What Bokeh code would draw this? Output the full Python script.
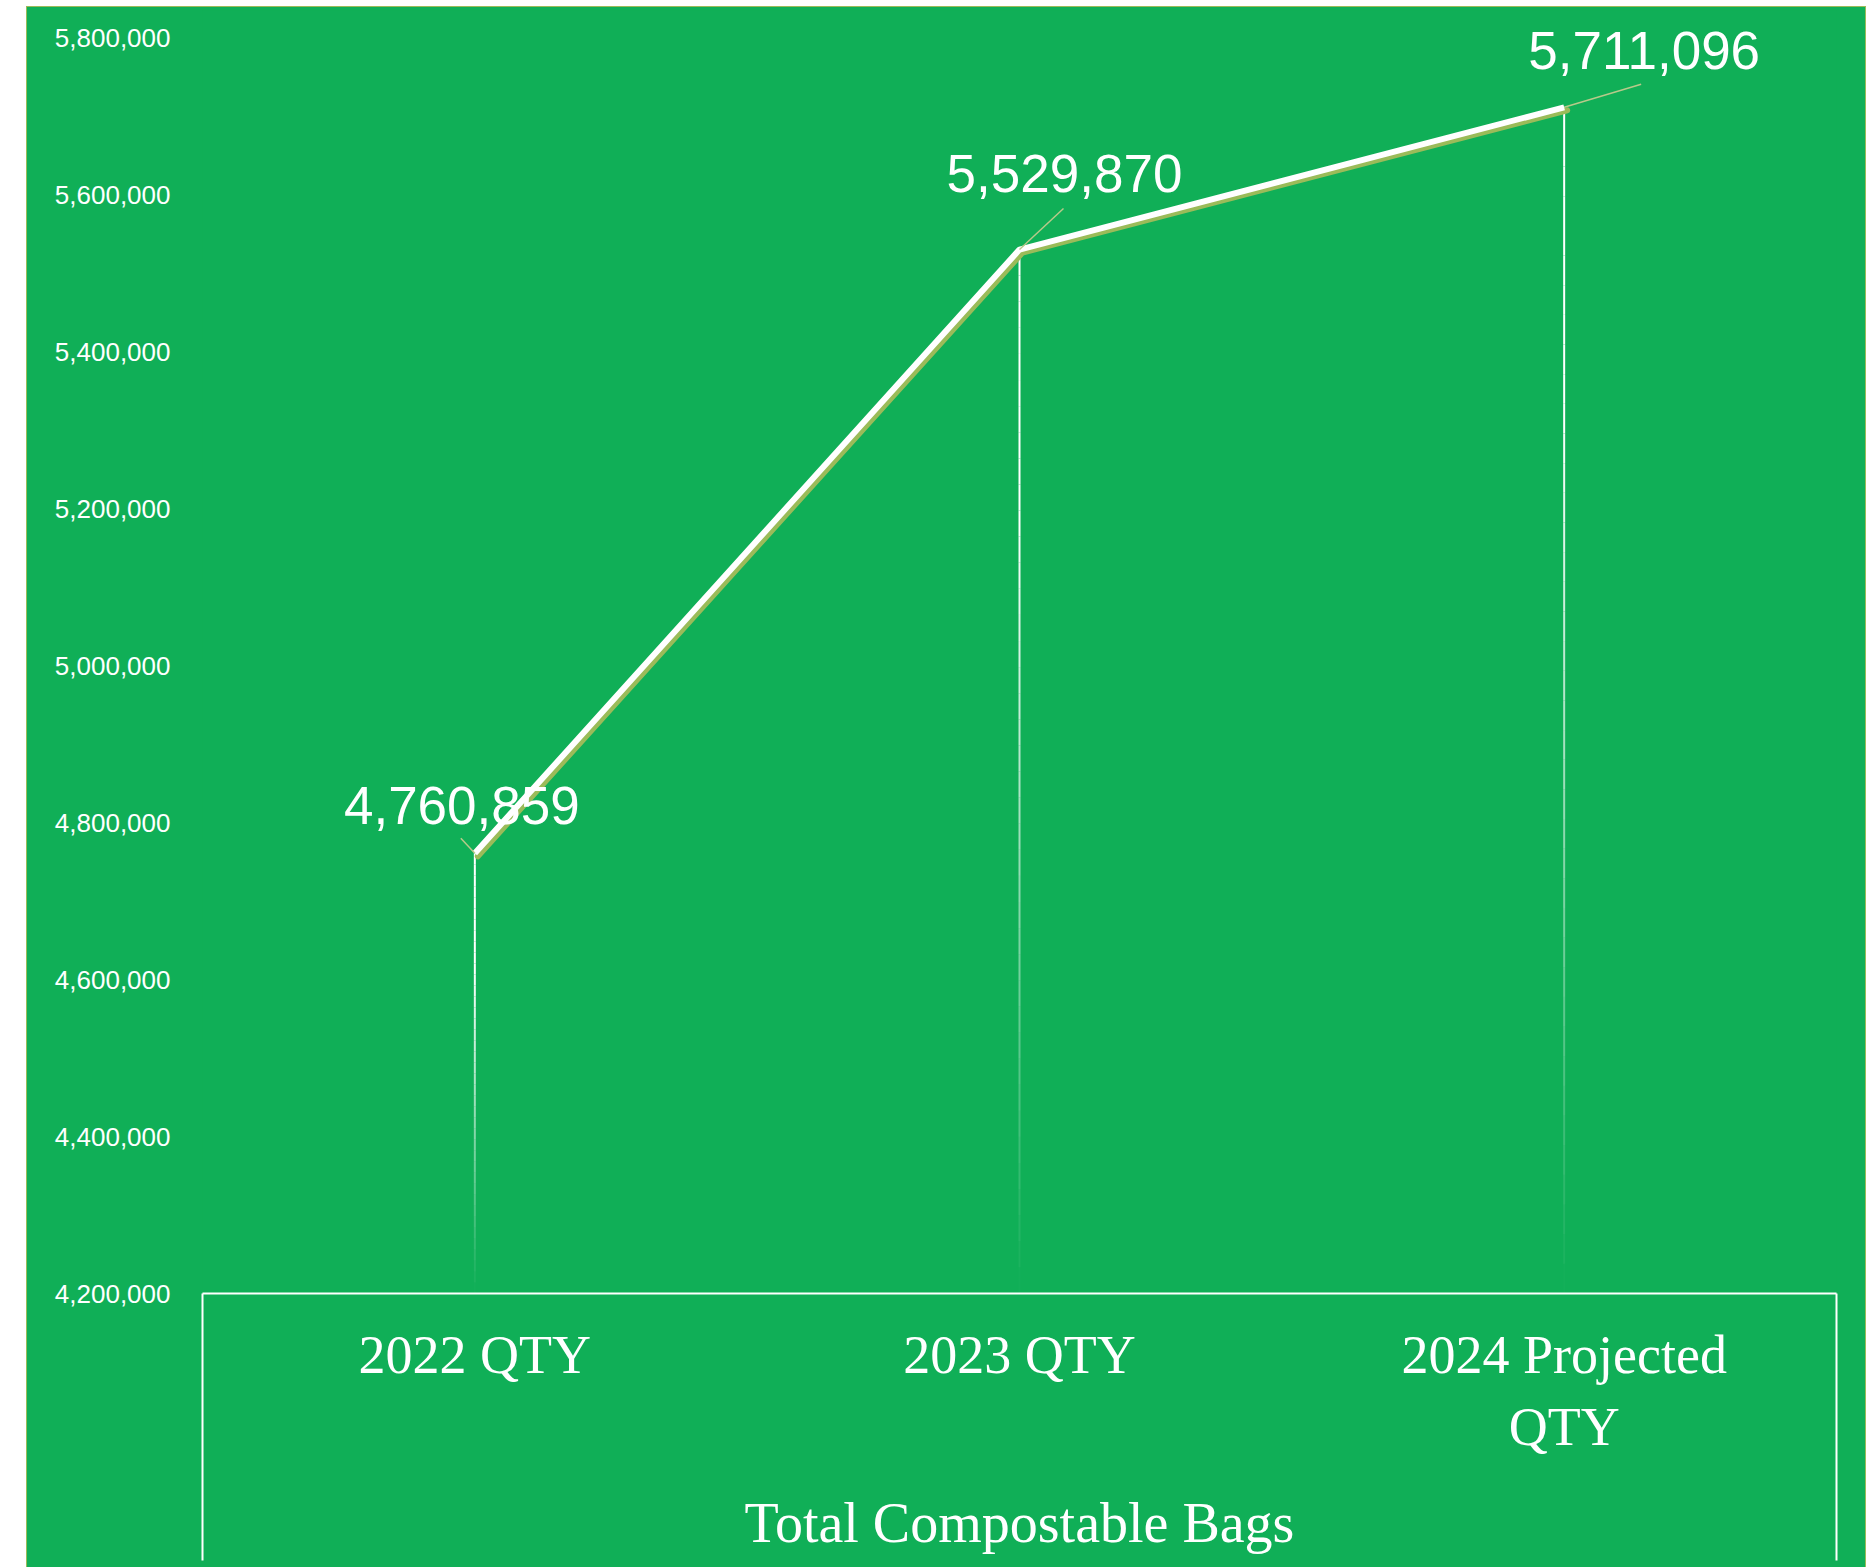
import textwrap
from bokeh.plotting import figure
from bokeh.models import (ColumnDataSource, Range1d, LinearAxis, LabelSet,
                          FixedTicker, NumeralTickFormatter)
from bokeh.embed import file_html
from bokeh.resources import INLINE
from bokeh.core.properties import value

# ---------------- data ----------------
categories = ["2022 QTY", "2023 QTY", "2024 Projected QTY"]
quantities = [4760859, 5529870, 5711096]
group_label = "Total Compostable Bags"
y_ticks = [4200000, 4400000, 4600000, 4800000, 5000000,
           5200000, 5400000, 5600000, 5800000]

# ---------------- style / layout ----------------
GREEN = "#10AF57"
OLIVE = "#9BBB59"
W, H = 1840, 1561
ML, MR, MB = 175, 31, 275
AXIS_TOP = 30                   # px from figure top to the 5,800,000 tick
HEADROOM = 27                   # extra frame above the top tick, so labels are not clipped
MT = AXIS_TOP - HEADROOM
frame_w = W - ML - MR
y_min, y_max = y_ticks[0], y_ticks[-1]
val_per_px = (y_max - y_min) / (H - AXIS_TOP - MB)
n = len(categories)
px_per_cat = frame_w / n
TICK = 267                      # length of the category box sides (px)

label_offsets = [(-13, 48), (45, 76), (80, 57)]        # px, text centre from point (up = +)
leader_ends = [(-14, -15), (44, -41), (77, -23)]       # px, from point (down = +)
shadow_shift = (3, 3)                                  # px

# category centres on a linear scale (one unit per category)
xc = [i + 0.5 for i in range(n)]

p = figure(width=W, height=H,
           x_range=Range1d(0, n),
           y_range=Range1d(y_min, y_max + HEADROOM * val_per_px),
           output_backend="svg", toolbar_location=None,
           x_axis_location=None,
           min_border_left=ML, min_border_right=MR,
           min_border_top=MT, min_border_bottom=MB)
p.background_fill_color = GREEN
p.border_fill_color = GREEN
p.outline_line_color = None
p.xgrid.visible = False
p.ygrid.visible = False
p.styles = {"margin-left": "26px", "margin-top": "6px",
            "background-color": GREEN,
            "border-left": "1px solid " + OLIVE,
            "border-top": "1px solid " + OLIVE,
            "border-right": "1px solid " + OLIVE}

# y axis
yax = p.yaxis[0]
yax.ticker = FixedTicker(ticks=y_ticks)
yax.formatter = NumeralTickFormatter(format="0,0")
yax.axis_line_color = None
yax.major_tick_line_color = None
yax.minor_tick_line_color = None
yax.major_tick_out = 0
yax.major_tick_in = 0
yax.major_label_standoff = 32
yax.major_label_text_color = "white"
yax.major_label_text_font = "Liberation Sans"
yax.major_label_text_font_size = "26px"

# x axis (category box)
xax = LinearAxis(ticker=FixedTicker(ticks=xc, minor_ticks=[0, n]),
                 major_label_overrides={x: textwrap.fill(c, 14)
                                        for x, c in zip(xc, categories)},
                 axis_label=group_label)
xax.axis_line_color = "white"
xax.axis_line_width = 2
xax.major_tick_line_color = None
xax.major_tick_out = 0
xax.major_tick_in = 0
xax.minor_tick_line_color = "white"
xax.minor_tick_line_width = 2
xax.minor_tick_out = TICK
xax.minor_tick_in = 0
xax.major_label_standoff = 31 - TICK
xax.major_label_text_color = "white"
xax.major_label_text_font = "Liberation Serif"
xax.major_label_text_font_size = "54px"
xax.axis_label_standoff = 32
xax.axis_label_text_color = "white"
xax.axis_label_text_font = "Liberation Serif"
xax.axis_label_text_font_style = "normal"
xax.axis_label_text_font_size = "56px"
p.add_layout(xax, "below")

# fading drop lines
nseg = 40
d = dict(x0=[], y0=[], x1=[], y1=[], a=[])
for x, v in zip(xc, quantities):
    for k in range(nseg):
        d["x0"].append(x)
        d["x1"].append(x)
        d["y0"].append(y_min + (v - y_min) * k / nseg)
        d["y1"].append(y_min + (v - y_min) * (k + 1) / nseg)
        d["a"].append(min(1.0, 1.35 * (k + 0.5) / nseg))
p.segment("x0", "y0", "x1", "y1", source=ColumnDataSource(d),
          line_color="white", line_width=2, line_alpha="a")

# shadow of main line
sx = [x + shadow_shift[0] / px_per_cat for x in xc]
sy = [v - shadow_shift[1] * val_per_px for v in quantities]
p.line(sx, sy, line_color=OLIVE, line_width=6, line_cap="round")

# main line
p.line(xc, quantities, line_color="white", line_width=6)

# leader lines
lx1 = [x + e[0] / px_per_cat for x, e in zip(xc, leader_ends)]
ly1 = [v - e[1] * val_per_px for v, e in zip(quantities, leader_ends)]
p.segment(xc, quantities, lx1, ly1, line_color="#B8C98A", line_width=1.5)

# data labels
lab = ColumnDataSource(dict(x=xc, y=quantities,
                            t=[f"{v:,}" for v in quantities],
                            xo=[o[0] for o in label_offsets],
                            yo=[o[1] for o in label_offsets]))
labels = LabelSet(x="x", y="y", text="t", x_offset="xo", y_offset="yo",
                  source=lab, text_color="white",
                  text_font=value("Liberation Sans"),
                  text_font_size="53px", text_align="center",
                  text_baseline="middle")
p.add_layout(labels)

open("out.html", "w").write(file_html(p, INLINE))
